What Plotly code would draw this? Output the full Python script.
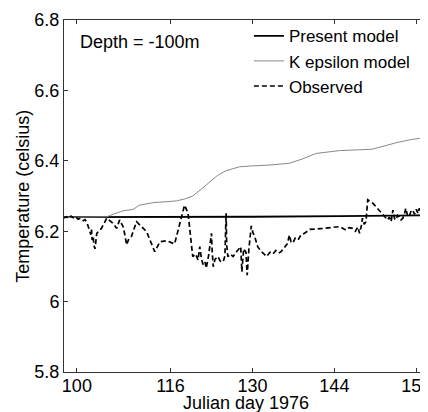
"""Temperature at -100 m depth: model vs observed"""
import plotly.graph_objects as go

# Present model (nearly constant)
present_day = [97.8, 110, 130, 145, 160]
present_temp = [6.240, 6.240, 6.241, 6.243, 6.245]

# K epsilon model
keps_day = [97.8, 100, 102, 104, 105.1, 106.5, 107.9, 109.6, 110.7, 113.0, 115, 117.0,
            118.5, 119.8, 121.3, 122.7, 124.0, 125.5, 127.8, 129.5, 133, 136.3, 138.5,
            140.9, 144.9, 148, 150.5, 152.5, 154.5, 157, 160]
keps_temp = [6.239, 6.240, 6.240, 6.240, 6.241, 6.250, 6.258, 6.262, 6.274, 6.281, 6.284, 6.286,
             6.292, 6.300, 6.320, 6.341, 6.358, 6.372, 6.383, 6.385, 6.388, 6.393, 6.405,
             6.421, 6.429, 6.431, 6.433, 6.442, 6.451, 6.460, 6.467]

# Observed
obs_day = [97.7, 98.2, 98.6, 99.0, 99.4, 99.8, 100.2, 100.6, 101.1, 101.4, 101.7, 102.0,
           102.2, 102.4, 102.5, 102.6, 102.8, 102.9, 103.1, 103.2, 103.4, 104.2, 105.1,
           106.2, 106.8, 107.3, 107.6, 107.9, 108.2, 108.5, 108.8, 109.3, 110.2, 111.9,
           113.3, 114.2, 115.3, 116.7, 118.4, 119.0, 119.8, 120.3, 120.7, 121.0, 121.3,
           121.6, 121.9, 122.1, 122.5, 123.0, 123.1, 123.3, 123.6, 124.1, 124.5, 125.0,
           125.3, 125.5, 125.6, 125.8, 126.2, 126.7, 127.2, 127.7, 128.0, 128.2, 128.5,
           128.9, 129.1, 129.4, 129.8, 130.1, 130.4, 130.9, 131.5, 132.0, 132.4, 133.0,
           133.5, 134.0, 134.5, 134.9, 135.5, 136.0, 136.3, 136.6, 136.9, 137.3, 137.8,
           138.3, 138.9, 139.3, 139.8, 142.0, 144.9, 146.0, 146.5, 147.1, 147.6, 148.0,
           148.3, 148.6, 148.8, 149.1, 149.4, 149.7, 150.6, 153.1, 153.4, 153.7, 154.0,
           154.3, 154.5, 154.8, 155.1, 155.4, 155.7, 156.0, 156.2, 156.5, 156.8, 157.1,
           157.4, 157.7, 158.0, 158.3, 158.5, 158.8, 159.1, 159.4, 159.7, 160.0]
obs_temp = [6.237, 6.241, 6.236, 6.243, 6.238, 6.241, 6.234, 6.237, 6.230, 6.233, 6.225, 6.212,
            6.200, 6.190, 6.205, 6.175, 6.185, 6.160, 6.150, 6.175, 6.194, 6.208, 6.237,
            6.222, 6.208, 6.232, 6.220, 6.213, 6.190, 6.161, 6.175, 6.184, 6.227, 6.199,
            6.142, 6.170, 6.173, 6.164, 6.274, 6.251, 6.128, 6.135, 6.118, 6.156, 6.120,
            6.104, 6.112, 6.095, 6.130, 6.194, 6.150, 6.099, 6.120, 6.128, 6.115, 6.113,
            6.130, 6.251, 6.160, 6.128, 6.135, 6.128, 6.140, 6.150, 6.156, 6.085, 6.150,
            6.140, 6.075, 6.150, 6.215, 6.195, 6.184, 6.156, 6.142, 6.135, 6.128, 6.140,
            6.135, 6.145, 6.138, 6.142, 6.156, 6.165, 6.189, 6.170, 6.166, 6.180, 6.175,
            6.190, 6.194, 6.200, 6.205, 6.208, 6.213, 6.203, 6.210, 6.208, 6.200, 6.212,
            6.194, 6.215, 6.237, 6.220, 6.227, 6.289, 6.279, 6.232, 6.240, 6.227, 6.260,
            6.235, 6.232, 6.245, 6.241, 6.232, 6.237, 6.250, 6.265, 6.245, 6.241, 6.258,
            6.260, 6.248, 6.262, 6.250, 6.265, 6.252, 6.262, 6.250, 6.255, 6.258]

x_ticks = [100, 116, 130, 144, 158]
y_ticks = [5.8, 6.0, 6.2, 6.4, 6.6, 6.8]
y_tick_labels = ["5.8", "6", "6.2", "6.4", "6.6", "6.8"]

FONT = "Liberation Sans, Arial, sans-serif"

fig = go.Figure()
fig.add_trace(go.Scatter(x=present_day, y=present_temp, mode="lines", name="Present model",
                         line=dict(color="black", width=1.8)))
fig.add_trace(go.Scatter(x=keps_day, y=keps_temp, mode="lines", name="K epsilon model",
                         line=dict(color="#888888", width=1)))
fig.add_trace(go.Scatter(x=obs_day, y=obs_temp, mode="lines", name="Observed",
                         line=dict(color="black", width=1.7, dash="5px,3px")))

axis_style = dict(showline=True, linecolor="#333", linewidth=1, mirror="ticks",
                  ticks="inside", ticklen=4, tickcolor="#333", showgrid=False,
                  zeroline=False, automargin=False, ticklabeloverflow="allow",
                  tickfont=dict(size=18, color="black"))

# the page body adds an 8px offset, so margins are trimmed by 8px on top/left
fig.update_layout(
    width=428, height=412,
    margin=dict(l=56, r=8, t=12, b=48),
    plot_bgcolor="white", paper_bgcolor="white",
    font=dict(family=FONT, size=18, color="black"),
    xaxis=dict(range=[97.8, 160], tickvals=x_ticks, ticklabelstandoff=-3, **axis_style),
    yaxis=dict(range=[5.8, 6.8], tickvals=y_ticks, ticktext=y_tick_labels, **axis_style),
    legend=dict(x=0.508, y=1.005, xanchor="left", yanchor="top", bgcolor="rgba(0,0,0,0)",
                borderwidth=0, font=dict(size=17), tracegroupgap=0),
    showlegend=True,
)
# axis titles as annotations so the margins stay fixed
fig.add_annotation(text="Julian day 1976", xref="paper", yref="paper", x=0.5, y=-0.089,
                   xanchor="center", yanchor="middle", showarrow=False)
fig.add_annotation(text="Temperature (celsius)", xref="paper", yref="paper", x=-0.113, y=0.5,
                   xanchor="center", yanchor="middle", textangle=-90, showarrow=False)
fig.add_annotation(text="Depth = -100m", xref="paper", yref="paper", x=0.038, y=0.937,
                   xanchor="left", yanchor="middle", showarrow=False)

fig.write_html("out.html")
